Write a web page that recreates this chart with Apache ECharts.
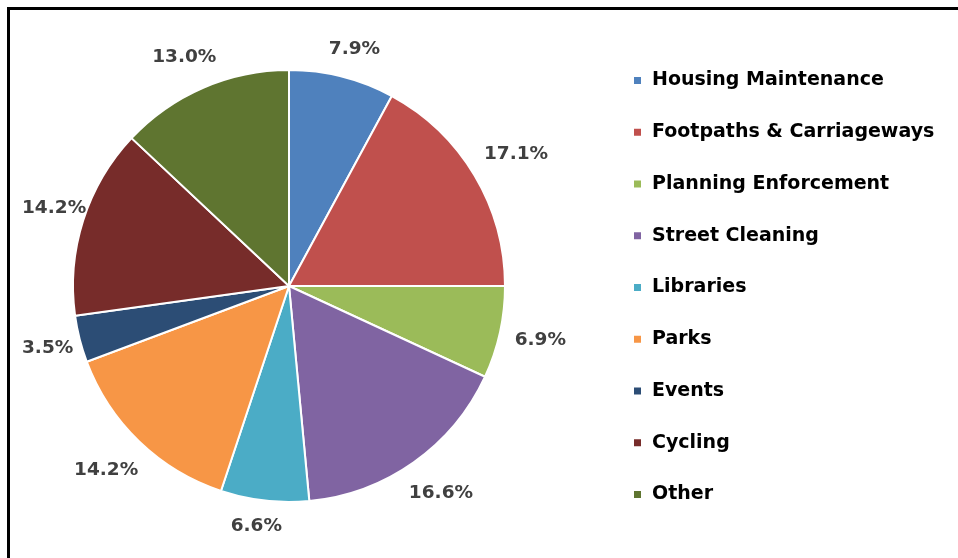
<!DOCTYPE html>
<html>
<head>
<meta charset="utf-8">
<script src="https://cdn.jsdelivr.net/npm/echarts@6/dist/echarts.min.js"></script>
<style>
html, body { margin: 0; padding: 0; background: #fff; }
#container { width: 958px; height: 558px; }
</style>
</head>
<body>
<div id="container"></div>
<script>
// chart data
var categories = ['Housing Maintenance', 'Footpaths & Carriageways', 'Planning Enforcement',
	'Street Cleaning', 'Libraries', 'Parks', 'Events', 'Cycling', 'Other'];
var shares = [7.9, 17.1, 6.9, 16.6, 6.6, 14.2, 3.5, 14.2, 13.0];
var colors = ['#4F81BD', '#C0504D', '#9BBB59', '#8064A2', '#4BACC6',
	'#F79646', '#2C4D75', '#772C2A', '#5F7530'];

var pieCenter = [289, 286];
var pieRadius = 216;
var labelGap = 14;

var myChart = echarts.init(document.getElementById('container'));

var pieData = function() {
	var arr = [];
	for (var i = 0; i < categories.length; ++i)
		arr.push({ name: categories[i], value: shares[i] });
	return arr;
}();

// put each label centred on its slice's ray, just outside the pie (like Excel "outside end")
function placeLabel(params) {
	var r = params.labelRect;
	var ax = (r.x + r.width / 2) > pieCenter[0] ? r.x : r.x + r.width;
	var ay = r.y + r.height / 2;
	var dx = ax - pieCenter[0], dy = ay - pieCenter[1];
	var len = Math.sqrt(dx * dx + dy * dy);
	dx /= len; dy /= len;
	var ext = Math.abs(dx) * r.width / 2 + Math.abs(dy) * r.height / 2;
	var d = pieRadius + labelGap + ext;
	var x = pieCenter[0] + dx * d;
	// keep clear of the left frame line
	x = Math.max(x, 22 + r.width / 2);
	return {
		x: x,
		y: pieCenter[1] + dy * d,
		align: 'center',
		verticalAlign: 'middle'
	};
}

option = {
	color: colors,
	animation: false,
	graphic: [
		{ type: 'rect', shape: { x: 7, y: 7, width: 951, height: 3 }, style: { fill: '#000' } },
		{ type: 'rect', shape: { x: 7, y: 7, width: 3, height: 551 }, style: { fill: '#000' } }
	],
	legend: {
		orient: 'vertical',
		left: 627,
		top: 65,
		icon: 'rect',
		itemWidth: 9,
		itemHeight: 9,
		itemGap: 30.75,
		textStyle: {
			fontFamily: 'DejaVu Sans',
			fontWeight: 'bold',
			fontSize: 19,
			lineHeight: 21,
			padding: [0, 0, 0, 5],
			color: '#000'
		},
		data: categories
	},
	series: [
		{
			type: 'pie',
			center: pieCenter,
			radius: pieRadius,
			startAngle: 90,
			clockwise: true,
			itemStyle: { borderColor: '#fff', borderWidth: 2 },
			label: {
				show: true,
				position: 'outside',
				overflow: 'none',
				formatter: function(p) { return p.value.toFixed(1) + '%'; },
				fontFamily: 'DejaVu Sans',
				fontWeight: 'bold',
				fontSize: 18.5,
				color: '#404040'
			},
			labelLine: { show: false, length: 10, length2: 0 },
			labelLayout: placeLabel,
			data: pieData
		}
	]
};
myChart.setOption(option);
</script>
</body>
</html>
